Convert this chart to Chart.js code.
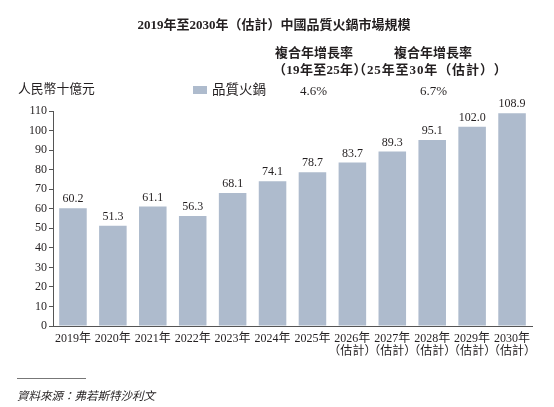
<!DOCTYPE html>
<html><head><meta charset="utf-8">
<script src="https://cdn.jsdelivr.net/npm/chart.js@4"></script>
<style>
html,body{margin:0;padding:0;background:#fff;}
#wrap{position:relative;width:554px;height:407px;overflow:hidden;}
canvas{position:absolute;left:0;top:0;}
.t{position:absolute;white-space:nowrap;color:#231f20;line-height:1;}
.serif{font-family:"Liberation Serif","Noto Sans CJK TC",serif;}
.cjk{font-family:"Liberation Serif","Noto Sans CJK TC",sans-serif;}
</style></head>
<body><div id="wrap">
<canvas id="c" width="554" height="407"></canvas>
<div class="t cjk" id="title" style="left:0;width:548px;text-align:center;top:18px;font-size:13px;font-weight:bold;"></div>
<div class="t cjk" style="left:275px;top:46px;font-size:13px;font-weight:bold;" id="h1"></div>
<div class="t cjk" style="left:394px;top:46px;font-size:13px;font-weight:bold;" id="h2"></div>
<div class="t cjk" style="left:273px;top:63px;font-size:13px;font-weight:bold;letter-spacing:0.3px;" id="h3"></div>
<div class="t cjk" style="left:353px;top:63px;font-size:13px;font-weight:bold;text-spacing-trim:space-all;letter-spacing:0.9px;" id="h4"></div>
<div class="t cjk" style="left:18px;top:83px;font-size:12.8px;" id="unit"></div>
<div style="position:absolute;left:193px;top:86px;width:14px;height:8px;background:#aebbcd;"></div>
<div class="t cjk" style="left:212px;top:83px;font-size:13.5px;" id="leg"></div>
<div class="t serif" style="left:300px;top:84px;font-size:13px;" id="c1"></div>
<div class="t serif" style="left:420px;top:84px;font-size:13px;" id="c2"></div>
<div style="position:absolute;left:17px;top:378px;width:69px;height:1px;background:#777;"></div>
<div class="t cjk" style="left:17px;top:391px;font-size:11.5px;font-style:italic;" id="src"></div>
</div>
<script>
const titleText = "2019年至2030年（估計）中國品質火鍋市場規模";
const cagrHeaders = ["複合年增長率", "複合年增長率"];
const cagrPeriods = ["（19年至25年）", "（25年至30年（估計））"];
const cagrValues = ["4.6%", "6.7%"];
const unitLabel = "人民幣十億元";
const seriesName = "品質火鍋";
const sourceText = "資料來源：弗若斯特沙利文";
const years = ["2019年","2020年","2021年","2022年","2023年","2024年","2025年","2026年","2027年","2028年","2029年","2030年"];
const estimated = [false,false,false,false,false,false,false,true,true,true,true,true];
const values = [60.2,51.3,61.1,56.3,68.1,74.1,78.7,83.7,89.3,95.1,102.0,108.9];
const yTicks = [0,10,20,30,40,50,60,70,80,90,100,110];

document.getElementById('title').textContent = titleText;
document.getElementById('h1').textContent = cagrHeaders[0];
document.getElementById('h2').textContent = cagrHeaders[1];
document.getElementById('h3').textContent = cagrPeriods[0];
document.getElementById('h4').textContent = cagrPeriods[1];
document.getElementById('c1').textContent = cagrValues[0];
document.getElementById('c2').textContent = cagrValues[1];
document.getElementById('unit').textContent = unitLabel;
document.getElementById('leg').textContent = seriesName;
document.getElementById('src').textContent = sourceText;

const labels = years.map((y,i)=> estimated[i] ? [y,"（估計）"] : [y]);
const FONT = '"Liberation Serif","Noto Sans CJK TC",serif';

const valueLabels = {
  id:'valueLabels',
  afterDatasetsDraw(chart){
    const ctx = chart.ctx;
    const meta = chart.getDatasetMeta(0);
    ctx.save();
    ctx.font = '12px ' + FONT;
    ctx.fillStyle = '#231f20';
    ctx.textAlign = 'center';
    ctx.textBaseline = 'bottom';
    meta.data.forEach((bar,i)=>{
      ctx.fillText(values[i].toFixed(1), bar.x, bar.y - 3);
    });
    ctx.restore();
  }
};

new Chart(document.getElementById('c'), {
  type:'bar',
  data:{labels:labels, datasets:[{label:seriesName, data:values, backgroundColor:'#aebbcd', borderWidth:0, barPercentage:0.69, categoryPercentage:1.0}]},
  options:{
    responsive:false, animation:false, devicePixelRatio:1,
    layout:{padding:{left:0, right:22, top:111, bottom:0}},
    plugins:{legend:{display:false}, tooltip:{enabled:false}, title:{display:false}},
    scales:{
      x:{
        grid:{display:false, drawTicks:false},
        border:{display:true, color:'#555', width:1},
        ticks:{color:'#231f20', font:{family:FONT, size:12, lineHeight:1.05}, padding:7, maxRotation:0, autoSkip:false},
        afterFit(s){ s.height = 81; }
      },
      y:{
        min:0, max:110,
        afterBuildTicks(s){ s.ticks = yTicks.map(v=>({value:v})); },
        grid:{display:true, drawOnChartArea:false, drawTicks:true, tickLength:4, color:'#555'},
        border:{display:true, color:'#555', width:1},
        ticks:{color:'#231f20', font:{family:FONT, size:12}, padding:2},
        afterFit(s){ s.width = 53; }
      }
    }
  },
  plugins:[valueLabels]
});
</script>
</body></html>
